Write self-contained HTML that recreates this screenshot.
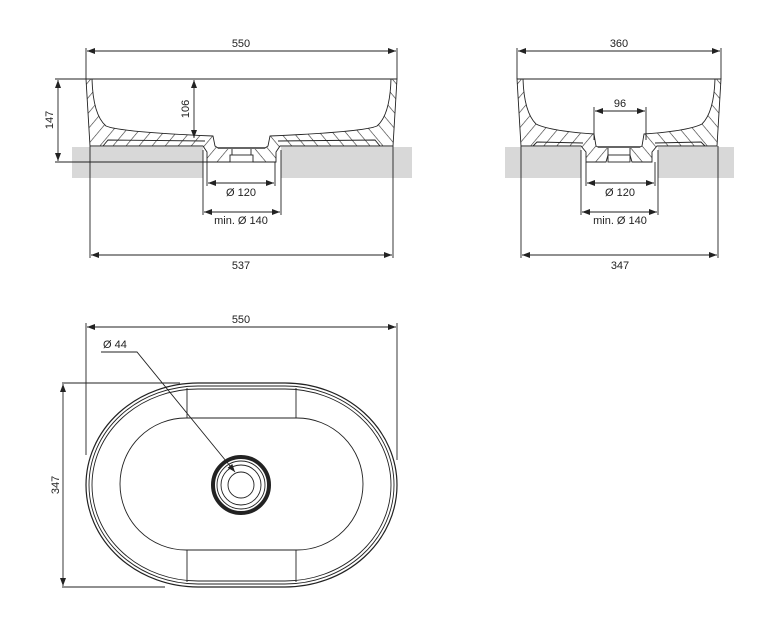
<!DOCTYPE html>
<html><head><meta charset="utf-8"><style>
html,body{margin:0;padding:0;background:#fff;}
svg{display:block;}
text{font-family:"Liberation Sans",sans-serif;font-size:11px;fill:#222;}
</style></head><body>
<svg width="776" height="630" viewBox="0 0 776 630" xmlns="http://www.w3.org/2000/svg">
<defs>
<pattern id="h" width="10" height="10" patternUnits="userSpaceOnUse" patternTransform="rotate(40)">
<rect width="10" height="10" fill="#fff"/><line x1="0" y1="0" x2="0" y2="10" stroke="#333" stroke-width="1.2"/>
</pattern>
<marker id="a" markerWidth="8" markerHeight="6" refX="8" refY="3" orient="auto-start-reverse" markerUnits="userSpaceOnUse">
<path d="M0,0 L8,3 L0,6 Z" fill="#222"/></marker>
</defs>
<g stroke="#222" stroke-width="0.9" fill="none">
<!-- LEFT VIEW -->
<rect x="72" y="147" width="131" height="31" fill="#d8d8d8" stroke="none"/>
<rect x="281" y="147" width="131" height="31" fill="#d8d8d8" stroke="none"/>
<line x1="86" y1="79" x2="397" y2="79"/>
<g id="ls">
<path d="M86,79 L92,79 Q93,115 106,126 Q120,132 213,136 L215,146 L218,148 L232,148 L232,155 L230,162 L207,162 L207,152 L203,146 L90,146 Z" fill="url(#h)"/>
<path d="M103,146 L108,140 L205,141" />
</g>
<use href="#ls" transform="translate(483,0) scale(-1,1)"/>
<rect x="230" y="155" width="23" height="7" fill="#fff"/>
<line x1="218" y1="148" x2="265" y2="148" stroke-width="2" stroke="#666"/>
<line x1="86" y1="48" x2="86" y2="79"/><line x1="397" y1="48" x2="397" y2="79"/>
<line x1="87" y1="51" x2="396" y2="51" marker-start="url(#a)" marker-end="url(#a)"/>
<line x1="55" y1="79" x2="86" y2="79"/><line x1="55" y1="162" x2="207" y2="162"/>
<line x1="58" y1="80" x2="58" y2="161" marker-start="url(#a)" marker-end="url(#a)"/>
<line x1="194" y1="80" x2="194" y2="138" marker-start="url(#a)" marker-end="url(#a)"/>
<line x1="207" y1="162" x2="207" y2="186"/><line x1="275" y1="162" x2="275" y2="186"/>
<line x1="208" y1="183" x2="274" y2="183" marker-start="url(#a)" marker-end="url(#a)"/>
<line x1="203" y1="150" x2="203" y2="215"/><line x1="281" y1="150" x2="281" y2="215"/>
<line x1="204" y1="212" x2="280" y2="212" marker-start="url(#a)" marker-end="url(#a)"/>
<line x1="90" y1="146" x2="90" y2="258"/><line x1="393" y1="146" x2="393" y2="258"/>
<line x1="91" y1="255" x2="392" y2="255" marker-start="url(#a)" marker-end="url(#a)"/>
<!-- RIGHT VIEW -->
<rect x="505" y="147" width="76" height="31" fill="#d8d8d8" stroke="none"/>
<rect x="658" y="147" width="76" height="31" fill="#d8d8d8" stroke="none"/>
<line x1="517" y1="79" x2="721" y2="79"/>
<g id="rs">
<path d="M517,79 L523,79 Q524,112 536,124 Q550,131 594,134 L596,146 L598,147 L608,147 L608,155 L606,162 L586,162 L586,152 L581,146 L521,146 Z" fill="url(#h)"/>
<path d="M533,146 L537,142 L583,143"/>
</g>
<use href="#rs" transform="translate(1238,0) scale(-1,1)"/>
<rect x="608" y="155" width="22" height="7" fill="#fff"/>
<line x1="598" y1="147" x2="640" y2="147" stroke-width="2" stroke="#666"/>
<line x1="517" y1="48" x2="517" y2="79"/><line x1="721" y1="48" x2="721" y2="79"/>
<line x1="518" y1="51" x2="720" y2="51" marker-start="url(#a)" marker-end="url(#a)"/>
<line x1="594" y1="107" x2="594" y2="140"/><line x1="646" y1="107" x2="646" y2="140"/>
<line x1="595" y1="111" x2="645" y2="111" marker-start="url(#a)" marker-end="url(#a)"/>
<line x1="586" y1="162" x2="586" y2="186"/><line x1="655" y1="162" x2="655" y2="186"/>
<line x1="587" y1="183" x2="654" y2="183" marker-start="url(#a)" marker-end="url(#a)"/>
<line x1="581" y1="150" x2="581" y2="215"/><line x1="658" y1="150" x2="658" y2="215"/>
<line x1="582" y1="212" x2="657" y2="212" marker-start="url(#a)" marker-end="url(#a)"/>
<line x1="521" y1="146" x2="521" y2="258"/><line x1="718" y1="146" x2="718" y2="258"/>
<line x1="522" y1="255" x2="717" y2="255" marker-start="url(#a)" marker-end="url(#a)"/>
<!-- PLAN VIEW -->
<line x1="86" y1="323" x2="86" y2="455"/><line x1="397" y1="323" x2="397" y2="460"/>
<line x1="87" y1="327" x2="396" y2="327" marker-start="url(#a)" marker-end="url(#a)"/>
<rect x="86" y="383" width="311" height="204" rx="112" ry="102" stroke-width="1.2"/>
<rect x="89" y="386" width="305" height="198" rx="109" ry="99"/>
<rect x="92" y="389" width="299" height="192" rx="106" ry="96"/>
<rect x="120" y="418" width="243" height="132" rx="66" ry="66"/>
<line x1="187" y1="388" x2="187" y2="418"/><line x1="296" y1="388" x2="296" y2="418"/>
<line x1="187" y1="550" x2="187" y2="582"/><line x1="296" y1="550" x2="296" y2="582"/>
<circle cx="241" cy="485" r="28" stroke-width="4"/>
<circle cx="241" cy="485" r="24"/>
<circle cx="241" cy="485" r="20"/>
<circle cx="241" cy="485" r="13"/>
<line x1="62" y1="383" x2="180" y2="383"/><line x1="62" y1="587" x2="165" y2="587"/>
<line x1="63" y1="384" x2="63" y2="586" marker-start="url(#a)" marker-end="url(#a)"/>
<polyline points="101,352 137,352 235,472" marker-end="url(#a)" fill="none"/>
</g>
<text x="241" y="47" text-anchor="middle">550</text>
<text x="619" y="47" text-anchor="middle">360</text>
<text x="241" y="323" text-anchor="middle">550</text>
<text x="620" y="107" text-anchor="middle">96</text>
<text x="241" y="196" text-anchor="middle">Ø 120</text>
<text x="241" y="224" text-anchor="middle">min. Ø 140</text>
<text x="241" y="269" text-anchor="middle">537</text>
<text x="620" y="196" text-anchor="middle">Ø 120</text>
<text x="620" y="224" text-anchor="middle">min. Ø 140</text>
<text x="620" y="269" text-anchor="middle">347</text>
<text x="103" y="348">Ø 44</text>
<text transform="translate(53,120) rotate(-90)" text-anchor="middle">147</text>
<text transform="translate(189,109) rotate(-90)" text-anchor="middle">106</text>
<text transform="translate(59,485) rotate(-90)" text-anchor="middle">347</text>
</svg>
</body></html>
